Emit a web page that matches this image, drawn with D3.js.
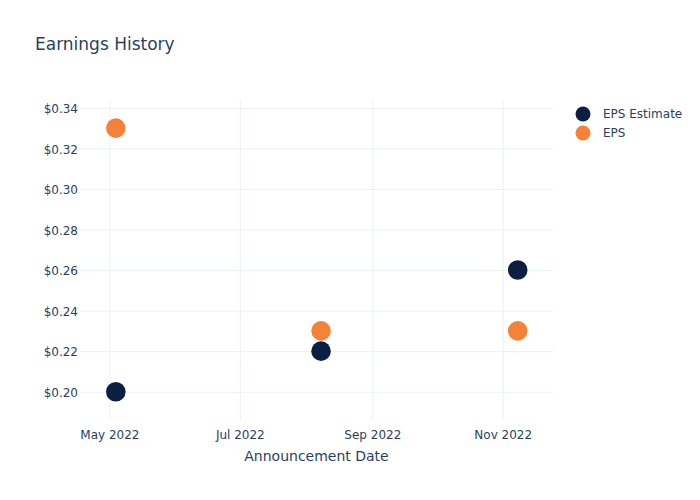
<!DOCTYPE html>
<html><head><meta charset="utf-8">
<script src="https://cdn.jsdelivr.net/npm/d3@7"></script>
<style>body{margin:0;background:#fff}text{font-family:"DejaVu Sans",sans-serif}</style>
</head><body><svg id="c" width="700" height="500"></svg>
<script>
const dates = ["2022-05-04", "2022-08-08", "2022-11-08"];
const epsEstimate = [0.20, 0.22, 0.26];
const eps = [0.33, 0.23, 0.23];
const seriesNames = ["EPS Estimate", "EPS"];
const seriesColors = ["#0b1f42", "#f58238"];
const yTicks = [0.20, 0.22, 0.24, 0.26, 0.28, 0.30, 0.32, 0.34];
const xTickDates = ["2022-05-01", "2022-07-01", "2022-09-01", "2022-11-01"];

const svg = d3.select("#c");
const W = 700, H = 500, m = {l: 80, r: 147, t: 100, b: 80};
const parse = d3.utcParse("%Y-%m-%d");
const x = d3.scaleUtc()
  .domain([new Date(Date.UTC(2022, 3, 17, 6)), new Date(Date.UTC(2022, 10, 24, 12))])
  .range([m.l, W - m.r]);
const y = d3.scaleLinear().domain([0.1857, 0.3435]).range([H - m.b + 0.7, m.t + 0.7]);
const ink = "#2a3f5f", grid = "#ebf0f8";

const gx = svg.append("g").attr("transform", `translate(0,${H - m.b})`)
  .call(d3.axisBottom(x).tickValues(xTickDates.map(parse)).tickFormat(d3.utcFormat("%b %Y")).tickSize(0).tickPadding(10));
gx.select(".domain").remove();
gx.selectAll("text").attr("fill", ink).style("font-size", "12px");
gx.selectAll(".tick").append("line").attr("y1", 0).attr("y2", -(H - m.b - m.t)).attr("stroke", grid);

const gy = svg.append("g").attr("transform", `translate(${m.l},0)`)
  .call(d3.axisLeft(y).tickValues(yTicks).tickFormat(d => "$" + d3.format(".2f")(d)).tickSize(0).tickPadding(2));
gy.select(".domain").remove();
gy.selectAll("text").attr("fill", ink).style("font-size", "12px").attr("dy", "0.4em");
gy.selectAll(".tick").append("line").attr("x1", 0).attr("x2", W - m.r - m.l).attr("stroke", grid);

[epsEstimate, eps].forEach((vals, i) => {
  svg.append("g").selectAll("circle").data(vals).join("circle")
    .attr("cx", (d, j) => x(parse(dates[j])))
    .attr("cy", d => y(d))
    .attr("r", 9.8)
    .attr("fill", seriesColors[i]);
});

svg.append("text").attr("x", 35).attr("y", 50).text("Earnings History")
  .attr("fill", ink).style("font-size", "17px");
svg.append("text").attr("x", (m.l + W - m.r) / 2).attr("y", 461).attr("text-anchor", "middle")
  .text("Announcement Date").attr("fill", ink).style("font-size", "14px");

const lg = svg.append("g");
seriesNames.forEach((n, i) => {
  lg.append("circle").attr("cx", 583).attr("cy", 114 + i * 19).attr("r", 7.5).attr("fill", seriesColors[i]);
  lg.append("text").attr("x", 603).attr("y", 118 + i * 19).text(n).attr("fill", ink).style("font-size", "12px");
});
</script></body></html>
